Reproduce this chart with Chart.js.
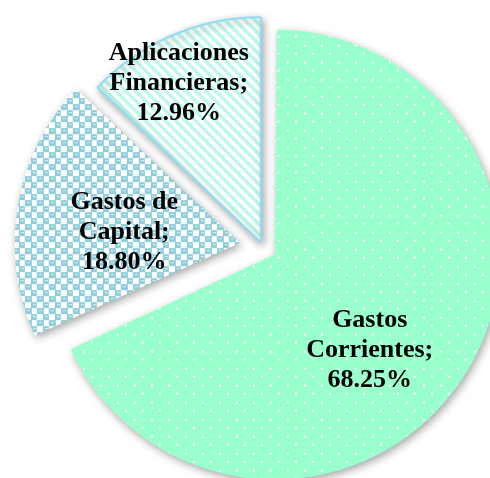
<!DOCTYPE html>
<html>
<head>
<meta charset="utf-8">
<script src="https://cdn.jsdelivr.net/npm/chart.js@4.4.1/dist/chart.umd.min.js"></script>
<style>
  html, body { margin: 0; padding: 0; background: #fff; }
  #wrap { width: 490px; height: 478px; position: relative; }
</style>
</head>
<body>
<div id="wrap"><canvas id="pieChart"></canvas></div>
<script>
// chart data
const categories = ['Gastos Corrientes', 'Gastos de Capital', 'Aplicaciones Financieras'];
const shares = [68.25, 18.80, 12.96];

// label placement: fraction of radius and angle nudge (deg) from slice middle
const labelFrac = [0.64, 0.52, 0.8];
const labelNudge = [12.5, -4, -4];

// small tile patterns like the Excel fills
function makeTile(w, h, paint) {
    const c = document.createElement('canvas');
    c.width = w; c.height = h;
    paint(c.getContext('2d'));
    return c.getContext('2d').createPattern(c, 'repeat');
}

const dots = makeTile(17, 17, g => {
    g.fillStyle = '#99ffcc';
    g.fillRect(0, 0, 17, 17);
    g.fillStyle = '#ffffff';
    g.fillRect(3, 3, 2, 2);
    g.fillRect(11, 11, 2, 2);
});

const spheres = makeTile(12, 12, g => {
    g.fillStyle = '#ffffff';
    g.fillRect(0, 0, 12, 12);
    g.fillStyle = '#92cddc';
    g.fillRect(0, 0, 7, 6);
    g.fillRect(6, 6, 7, 6);
    g.fillRect(-1, 6, 1, 6);
    g.fillStyle = '#d6eff5';
    g.fillRect(2, 2, 3, 1);
    g.fillRect(8, 8, 3, 1);
});

const stripes = makeTile(10, 10, g => {
    g.fillStyle = '#ffffff';
    g.fillRect(0, 0, 10, 10);
    g.fillStyle = '#bff9ec';
    for (let i = 0; i < 10; i++) {
        for (let k = 0; k < 5; k++) {
            g.fillRect((i + k) % 10, i, 1, 1);
        }
    }
});

// ArcElement grows the radius of exploded slices a bit; undo that so
// every slice keeps the same radius
const keepRadius = {
    id: 'keepRadius',
    afterDatasetUpdate(chart, args) {
        const meta = chart.getDatasetMeta(args.index);
        meta.data.forEach(arc => {
            const o = (arc.options.offset || 0) / 4;
            const fix = 1 - Math.sin(Math.min(Math.PI, arc.circumference));
            arc.outerRadius -= o * fix;
        });
    }
};

// soft drop shadow behind the slices
const shadowPlugin = {
    id: 'sliceShadow',
    beforeDatasetsDraw(chart) {
        const ctx = chart.ctx;
        ctx.save();
        ctx.shadowColor = 'rgba(0,0,0,0.35)';
        ctx.shadowBlur = 9;
        ctx.shadowOffsetX = 2;
        ctx.shadowOffsetY = 3;
    },
    afterDatasetsDraw(chart) {
        chart.ctx.restore();
    }
};

function wrapWords(ctx, text, maxW) {
    const words = text.split(' ');
    const lines = [];
    let cur = '';
    words.forEach(w => {
        const test = cur ? cur + ' ' + w : w;
        if (cur && ctx.measureText(test).width > maxW) {
            lines.push(cur);
            cur = w;
        } else {
            cur = test;
        }
    });
    if (cur) lines.push(cur);
    return lines;
}

const labelPlugin = {
    id: 'sliceLabels',
    afterDatasetsDraw(chart) {
        const ctx = chart.ctx;
        const meta = chart.getDatasetMeta(0);
        ctx.save();
        ctx.font = 'bold 26px "Liberation Serif", "DejaVu Serif", serif';
        ctx.fillStyle = '#000';
        ctx.textAlign = 'center';
        ctx.textBaseline = 'middle';
        meta.data.forEach((arc, i) => {
            const p = arc.getProps(['x', 'y', 'startAngle', 'endAngle', 'outerRadius'], true);
            const midRaw = (p.startAngle + p.endAngle) / 2;
            const mid = midRaw + labelNudge[i] * Math.PI / 180;
            const shift = (arc.options.offset || 0) / 4;
            const cx = p.x + Math.cos(midRaw) * shift + Math.cos(mid) * p.outerRadius * labelFrac[i];
            const cy = p.y + Math.sin(midRaw) * shift + Math.sin(mid) * p.outerRadius * labelFrac[i];
            const lines = wrapWords(ctx, categories[i] + ';', 140);
            lines.push(shares[i].toFixed(2) + '%');
            const lh = 30;
            lines.forEach((t, k) => {
                ctx.fillText(t, cx, cy + (k - (lines.length - 1) / 2) * lh);
            });
        });
        ctx.restore();
    }
};

const ctx = document.getElementById('pieChart').getContext('2d');
new Chart(ctx, {
    type: 'pie',
    data: {
        labels: categories,
        datasets: [{
            data: shares,
            backgroundColor: [dots, spheres, stripes],
            borderColor: ['#ffffff', '#ffffff', '#8fdcf4'],
            borderWidth: [0, 0, 2],
            offset: [56, 94, 21]
        }]
    },
    options: {
        responsive: true,
        maintainAspectRatio: false,
        animation: false,
        events: [],
        radius: 225,
        layout: { padding: { left: 36, top: 16, right: 0, bottom: 0 } },
        plugins: {
            legend: { display: false },
            tooltip: { enabled: false }
        }
    },
    plugins: [keepRadius, shadowPlugin, labelPlugin]
});
</script>
</body>
</html>
